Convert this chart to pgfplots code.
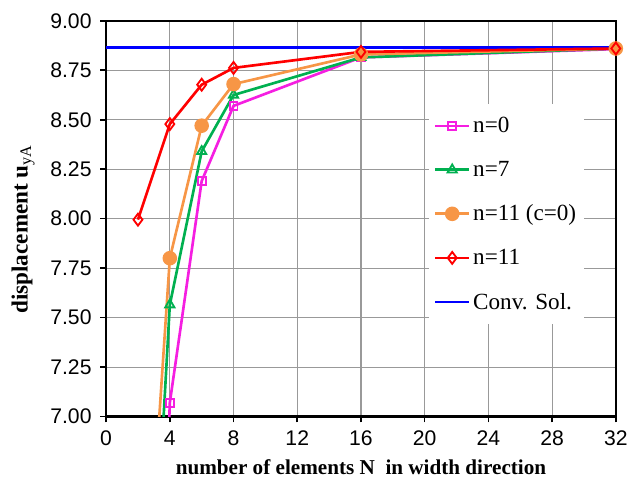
\documentclass[border=0pt]{standalone}
\usepackage{pgfplots}
\pgfplotsset{compat=1.18}
\usepackage{fontspec}
\setmainfont{Liberation Serif}
\newfontfamily\arialf{Liberation Sans}
\definecolor{cmag}{RGB}{245,30,225}
\definecolor{cgreen}{RGB}{0,176,80}
\definecolor{corange}{RGB}{247,150,70}
\definecolor{cred}{RGB}{255,0,0}
\definecolor{cblue}{RGB}{0,0,255}
\begin{document}
\begin{tikzpicture}
\begin{axis}[
  at={(0pt,0pt)}, anchor=south west,
  scale only axis, width=385.5pt, height=299.25pt,
  xmin=0, xmax=32, ymin=7, ymax=9,
  xtick={0,4,...,32}, ytick={7,7.25,...,9.01},
  /pgf/number format/assume math mode=true,
  ticklabel style={font=\arialf\fontsize{16}{18}\selectfont, black},
  yticklabel style={xshift=-3pt, /pgf/number format/.cd, fixed, fixed zerofill, precision=2},
  xticklabel style={yshift=-3pt},
  tick align=outside, xtick pos=bottom, ytick pos=left,
  major tick length=4.5pt,
  tick style={black, line width=1.2pt},
  axis line style={black, line width=1.8pt},
  grid=major, major grid style={gray!80, line width=0.8pt},
  xlabel={\textbf{number of elements N\ \ in width direction}},
  ylabel={\textbf{displacement u}\textsubscript{yA}},
  xlabel style={font=\fontsize{16}{18}\selectfont, yshift=-3pt},
  ylabel style={font=\fontsize{17.5}{19}\selectfont, yshift=5pt, xshift=-8pt},
  legend style={at={(0.632,0.79)}, anchor=north west, draw=none, fill=white,
     font=\fontsize{17.5}{19}\selectfont, row sep=16pt, inner xsep=4pt, inner ysep=8pt},
  legend cell align=left,
  legend image code/.code={\draw[mark repeat=2,mark phase=2] plot coordinates {(0cm,0cm)(0.45cm,0cm)(0.9cm,0cm)};},
  every axis plot/.append style={line width=2pt},
]
\addplot[cmag, mark=square, mark size=3pt, mark options={fill=white, line width=1.4pt}]
  coordinates {(2,2.5)(4,7.07)(6,8.19)(8,8.57)(16,8.815)(32,8.857)};
\addlegendentry{n=0}
\addplot[cgreen, mark=triangle, mark size=4pt, mark options={fill=white, line width=1.4pt}]
  coordinates {(2,4.67)(4,7.565)(6,8.34)(8,8.625)(16,8.815)(32,8.86)};
\addlegendentry{n=7}
\addplot[corange, mark=*, mark size=4.5pt, mark options={fill=corange}]
  coordinates {(2,5.38)(4,7.80)(6,8.47)(8,8.68)(16,8.83)(32,8.86)};
\addlegendentry{n=11 (c=0)}
\addplot[cblue, line width=2.2pt, forget plot] coordinates {(0,8.865)(32,8.865)};
\addplot[cred, mark=diamond, mark size=4.5pt, mark options={fill=white, line width=1.4pt}]
  coordinates {(2,7.995)(4,8.478)(6,8.677)(8,8.762)(16,8.843)(32,8.86)};
\addlegendentry{n=11}
\addlegendimage{cblue, line width=2.2pt}
\addlegendentry{Conv. Sol.}
\end{axis}
\path (-80.25pt,-52.5pt) rectangle (393.75pt,315pt);
\end{tikzpicture}
\end{document}
